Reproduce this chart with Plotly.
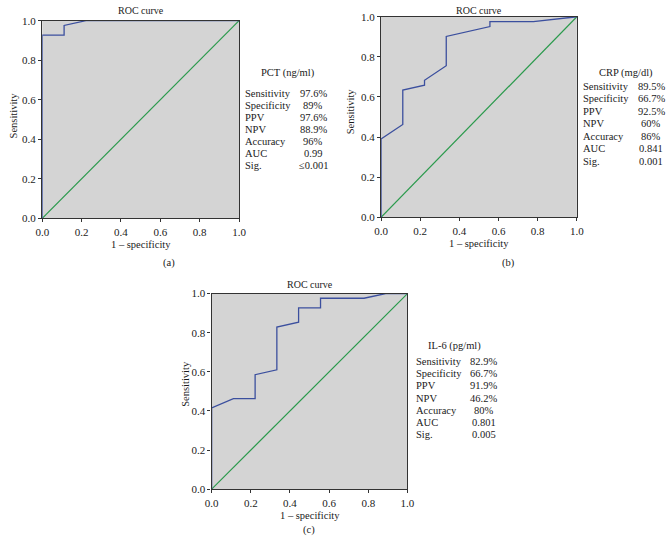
"""
ROC curves for PCT, CRP and IL-6 - three panels (a), (b), (c) with stats tables.
"""

import plotly.graph_objects as go

W, H = 672, 547
FONT = "Liberation Serif"
BG_GREY = "#d4d4d4"
CURVE_BLUE = "#3b4f9e"
DIAG_GREEN = "#2a9a4c"
AXIS_COLOR = "#333333"

# ROC curve points (1 - specificity, sensitivity)
pct_fpr = [0.0, 0.0, 0.111, 0.111, 0.222, 1.0]
pct_tpr = [0.0, 0.927, 0.927, 0.976, 1.0, 1.0]

crp_fpr = [0.0, 0.0, 0.111, 0.111, 0.222, 0.222, 0.333, 0.333, 0.556, 0.556, 0.778, 1.0]
crp_tpr = [0.0, 0.390, 0.463, 0.634, 0.659, 0.683, 0.756, 0.902, 0.951, 0.976, 0.976, 1.0]

il6_fpr = [0.0, 0.0, 0.111, 0.222, 0.222, 0.333, 0.333, 0.444, 0.444, 0.556, 0.556, 0.778, 0.889, 1.0]
il6_tpr = [0.0, 0.415, 0.463, 0.463, 0.585, 0.610, 0.829, 0.854, 0.927, 0.927, 0.976, 0.976, 1.0, 1.0]

ref_line = [0.0, 1.0]

stat_labels = ["Sensitivity", "Specificity", "PPV", "NPV", "Accuracy", "AUC", "Sig."]
pct_stats = ["97.6%", "89%", "97.6%", "88.9%", "96%", "0.99", "≤0.001"]
crp_stats = ["89.5%", "66.7%", "92.5%", "60%", "86%", "0.841", "0.001"]
il6_stats = ["82.9%", "66.7%", "91.9%", "46.2%", "80%", "0.801", "0.005"]

tick_vals = [0.0, 0.2, 0.4, 0.6, 0.8, 1.0]


def px_x(v):
    return v / W


def px_y(v):
    return 1 - v / H


# panel boxes in pixels: (left, right, top, bottom)
panels = [
    dict(box=(36, 237, 15, 217), fpr=pct_fpr, tpr=pct_tpr, marker="PCT (ng/ml)",
         stats=pct_stats, title_xy=(287, 68), label_x=242, value_x=313,
         first_row=89, row_step=12.4, caption="(a)", cap_x=165, cap_y=263,
         roc_y=5, ytitle_x=7, ytitle_y=112),
    dict(box=(382, 582, 11, 216), fpr=crp_fpr, tpr=crp_tpr, marker="CRP (mg/dl)",
         stats=crp_stats, title_xy=(632, 68), label_x=587, value_x=658,
         first_row=82, row_step=12.8, caption="(b)", cap_x=512, cap_y=263,
         roc_y=5, ytitle_x=351, ytitle_y=108),
    dict(box=(209, 409, 294, 494), fpr=il6_fpr, tpr=il6_tpr, marker="IL-6 (pg/ml)",
         stats=il6_stats, title_xy=(457, 348), label_x=417, value_x=487,
         first_row=363, row_step=12.6, caption="(c)", cap_x=308, cap_y=536,
         roc_y=285, ytitle_x=182, ytitle_y=386),
]

fig = go.Figure()
annotations = []
layout_axes = {}


def text_ann(x, y, text, size=10.5, xanchor="center", angle=0):
    return dict(
        x=px_x(x), y=px_y(y), xref="paper", yref="paper", text=text,
        showarrow=False, xanchor=xanchor, yanchor="middle", textangle=angle,
        borderpad=0, font=dict(family=FONT, size=size, color="#1a1a1a"),
    )


for i, p in enumerate(panels, start=1):
    sfx = "" if i == 1 else str(i)
    left, right, top, bottom = p["box"]

    fig.add_trace(go.Scatter(
        x=ref_line, y=ref_line, mode="lines", xaxis=f"x{sfx}", yaxis=f"y{sfx}",
        line=dict(color=DIAG_GREEN, width=1.2), showlegend=False, hoverinfo="skip",
    ))
    fig.add_trace(go.Scatter(
        x=p["fpr"], y=p["tpr"], mode="lines", xaxis=f"x{sfx}", yaxis=f"y{sfx}",
        line=dict(color=CURVE_BLUE, width=1.3), showlegend=False,
    ))

    axis_common = dict(
        range=[0, 1], tickmode="array", tickvals=tick_vals, tickformat=".1f",
        showline=True, linecolor=AXIS_COLOR, linewidth=1.4, mirror=True,
        ticks="outside", ticklen=3, tickwidth=1, tickcolor=AXIS_COLOR,
        showgrid=False, zeroline=False, fixedrange=True,
        tickfont=dict(family=FONT, size=11, color="#222222"),
    )
    layout_axes[f"xaxis{sfx}"] = dict(
        axis_common, domain=[px_x(left), px_x(right)], anchor=f"y{sfx}",
    )
    layout_axes[f"yaxis{sfx}"] = dict(
        axis_common, domain=[px_y(bottom), px_y(top)], anchor=f"x{sfx}",
    )

    cx = (left + right) / 2
    annotations.append(text_ann(cx, p["roc_y"], "ROC curve", size=10))
    annotations.append(text_ann(cx, bottom + 27, "1 – specificity", size=10.5))
    annotations.append(text_ann(p["ytitle_x"], p["ytitle_y"], "Sensitivity", size=10.5, angle=-90))
    annotations.append(text_ann(p["cap_x"], p["cap_y"], p["caption"], size=10.5))

    tx, ty = p["title_xy"]
    annotations.append(text_ann(tx, ty, p["marker"], size=10.5))
    for k, (lab, val) in enumerate(zip(stat_labels, p["stats"])):
        ry = p["first_row"] + k * p["row_step"]
        annotations.append(text_ann(p["label_x"], ry, lab, size=10.5, xanchor="left"))
        annotations.append(text_ann(p["value_x"], ry, val, size=10.5))

fig.update_layout(
    width=W, height=H,
    margin=dict(l=0, r=0, t=0, b=0),
    paper_bgcolor="#ffffff",
    plot_bgcolor=BG_GREY,
    annotations=annotations,
    **layout_axes,
)

# drop the default <body> margin so the figure fills the window exactly
fig.write_html(
    "out.html",
    config=dict(displayModeBar=False),
    post_script="document.body.style.margin = '0px';",
)
